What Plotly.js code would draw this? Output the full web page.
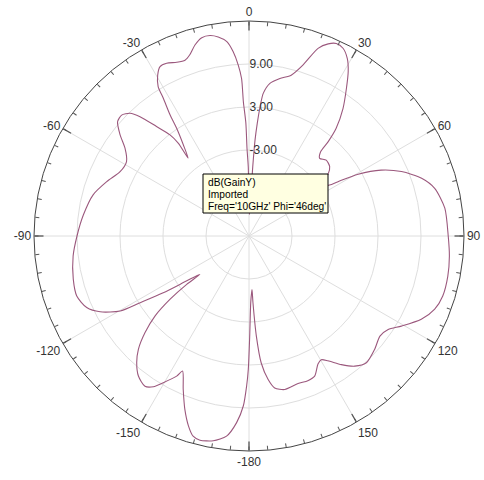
<!DOCTYPE html>
<html>
<head>
<meta charset="utf-8">
<script src="https://cdn.plot.ly/plotly-3.0.1.min.js"></script>
<style>html,body{margin:0;padding:0;background:#fff;}#chart{width:484px;height:480px;}</style>
</head>
<body>
<div id="chart"></div>
<script>
// Pattern data: angle (deg, clockwise from top) and gain (dB)
const thetaDeg = [1.0, 3.1, 3.6, 4.2, 4.9, 5.7, 7.8, 11.1, 14.7, 17.5, 20.2, 22.4, 24.4, 26.6, 29.0, 31.1, 33.4, 36.4, 39.0, 40.0, 40.4, 42.3, 45.5, 49.3, 52.0, 55.0, 57.7, 58.6, 60.5, 63.5, 67.1, 71.5, 75.6, 81.9, 90.0, 95.7, 101.4, 107.2, 111.5, 115.8, 120.6, 123.9, 127.4, 132.0, 137.2, 140.9, 144.3, 147.7, 149.7, 151.7, 154.9, 157.9, 161.6, 166.9, 170.4, 172.4, 174.5, 175.8, 176.6, 176.8, 178.5, 179.6, 180.3, 180.9, 181.9, 183.8, 186.4, 189.9, 193.5, 195.6, 197.7, 200.3, 203.2, 206.2, 207.3, 210.3, 212.4, 214.7, 218.3, 221.6, 224.3, 227.1, 229.6, 231.3, 232.2, 232.0, 234.2, 236.5, 238.5, 239.8, 243.0, 246.2, 250.8, 256.2, 263.5, 270.0, 277.2, 284.8, 290.9, 296.5, 301.3, 305.3, 308.1, 311.0, 313.5, 315.9, 317.6, 319.8, 322.0, 322.7, 322.0, 324.2, 326.1, 326.9, 328.1, 328.7, 330.4, 332.3, 334.5, 337.4, 340.0, 341.9, 344.2, 346.6, 349.0, 351.2, 353.5, 355.1, 356.4, 357.3, 357.6, 358.4, 358.7, 359.4, 361.0];
const gainDb = [-12.0, -5.3, -1.6, 0.8, 3.1, 5.0, 6.5, 7.4, 8.2, 10.0, 12.9, 14.0, 14.5, 14.3, 13.3, 11.8, 9.7, 7.1, 4.3, 2.2, 0.4, -0.35, 0.1, -0.15, -1.0, -3.0, -1.7, -0.45, 2.5, 5.6, 8.1, 10.4, 11.75, 12.6, 12.8, 13.1, 13.3, 13.3, 12.85, 11.7, 9.7, 8.4, 8.0, 8.6, 9.1, 8.4, 7.1, 5.6, 5.0, 5.3, 6.6, 6.8, 6.7, 7.0, 6.5, 5.2, 2.8, -1.0, -5.7, -7.5, -5.7, -1.0, 3.6, 5.9, 8.7, 11.1, 13.1, 14.0, 14.3, 14.0, 12.8, 10.8, 8.3, 6.0, 7.0, 8.7, 9.9, 10.5, 9.9, 8.6, 7.1, 4.8, 2.2, -0.9, -4.0, -6.3, -4.3, -0.65, 2.8, 5.8, 8.3, 9.75, 10.45, 10.25, 9.7, 9.0, 8.3, 7.5, 6.25, 5.1, 5.0, 6.2, 7.85, 9.3, 9.5, 8.85, 7.55, 5.0, 2.9, 1.25, -1.2, 0.65, 3.1, 5.15, 7.6, 9.4, 10.8, 11.7, 11.7, 11.25, 11.1, 11.6, 12.7, 13.45, 13.5, 13.1, 12.3, 10.8, 8.9, 7.0, 3.75, 0.8, -2.8, -5.4, -12.0];

const angleTickVals = [0, 30, 60, 90, 120, 150, 180, 210, 240, 270, 300, 330];
const angleTickText = ["0", "30", "60", "90", "120", "150", "-180", "-150", "-120", "-90", "-60", "-30"];
const radialTickVals = [-9, -3, 3, 9];
const radialTickText = ["-9.00", "-3.00", "3.00", "9.00"];
const legendLines = ["dB(GainY)", "Imported", "Freq='10GHz' Phi='46deg'"];

const minorVals = [];
for (let a = 0; a < 360; a += 5) minorVals.push(a);

const W = 484, H = 480;
const cx = 249, cy = 236, R = 215;
const dom = {x: [(cx - R) / W, (cx + R) / W], y: [(H - cy - R) / H, (H - cy + R) / H]};

const traces = [
  {type: 'scatterpolar', r: gainDb, theta: thetaDeg, mode: 'lines',
   line: {color: 'rgb(155,88,125)', width: 1.1, shape: 'spline', smoothing: 0.7},
   hoverinfo: 'skip', subplot: 'polar', showlegend: false},
  {type: 'scatterpolar', r: [-15], theta: [0], mode: 'markers', marker: {opacity: 0},
   hoverinfo: 'skip', subplot: 'polar2', showlegend: false}
];

const tickFont = {family: 'Liberation Sans, Arial, sans-serif', size: 12, color: '#333'};

const layout = {
  width: W, height: H,
  margin: {l: 0, r: 0, t: 0, b: 0},
  paper_bgcolor: '#fff',
  showlegend: false,
  polar: {
    domain: dom,
    bgcolor: 'rgba(0,0,0,0)',
    angularaxis: {
      rotation: 90, direction: 'clockwise',
      tickmode: 'array', tickvals: angleTickVals, ticktext: angleTickText,
      ticks: 'inside', ticklen: 9, tickwidth: 1.3, tickcolor: '#555',
      showgrid: true, gridcolor: '#dedede', gridwidth: 1,
      showline: true, linecolor: '#444', linewidth: 1,
      tickfont: tickFont
    },
    radialaxis: {
      range: [-15, 15], angle: 90, tickangle: 90, side: 'clockwise',
      tickmode: 'array', tickvals: radialTickVals, ticktext: radialTickText,
      showline: false, ticks: '', showgrid: true, gridcolor: '#dedede', gridwidth: 1,
      tickfont: tickFont
    }
  },
  polar2: {
    domain: dom,
    bgcolor: 'rgba(0,0,0,0)',
    angularaxis: {
      rotation: 90, direction: 'clockwise',
      tickmode: 'array', tickvals: minorVals,
      ticks: 'inside', ticklen: 4, tickwidth: 1, tickcolor: '#555',
      showticklabels: false, showgrid: false, showline: false
    },
    radialaxis: {range: [-15, 15], visible: false}
  },
  shapes: [
    {type: 'rect', xref: 'paper', yref: 'paper', layer: 'above',
     x0: 203 / W, x1: 328 / W, y0: 1 - 213 / H, y1: 1 - 174 / H,
     fillcolor: '#ffffe1', line: {color: '#000', width: 1}}
  ],
  annotations: legendLines.map((t, i) => ({
    xref: 'paper', yref: 'paper', x: 206 / W, y: 1 - (182.5 + i * 12) / H,
    xanchor: 'left', yanchor: 'middle', showarrow: false, text: t,
    font: {family: 'Liberation Sans, Arial, sans-serif', size: 10.2, color: '#000'}
  }))
};

Plotly.newPlot('chart', traces, layout, {displayModeBar: false, staticPlot: true});
</script>
</body>
</html>
